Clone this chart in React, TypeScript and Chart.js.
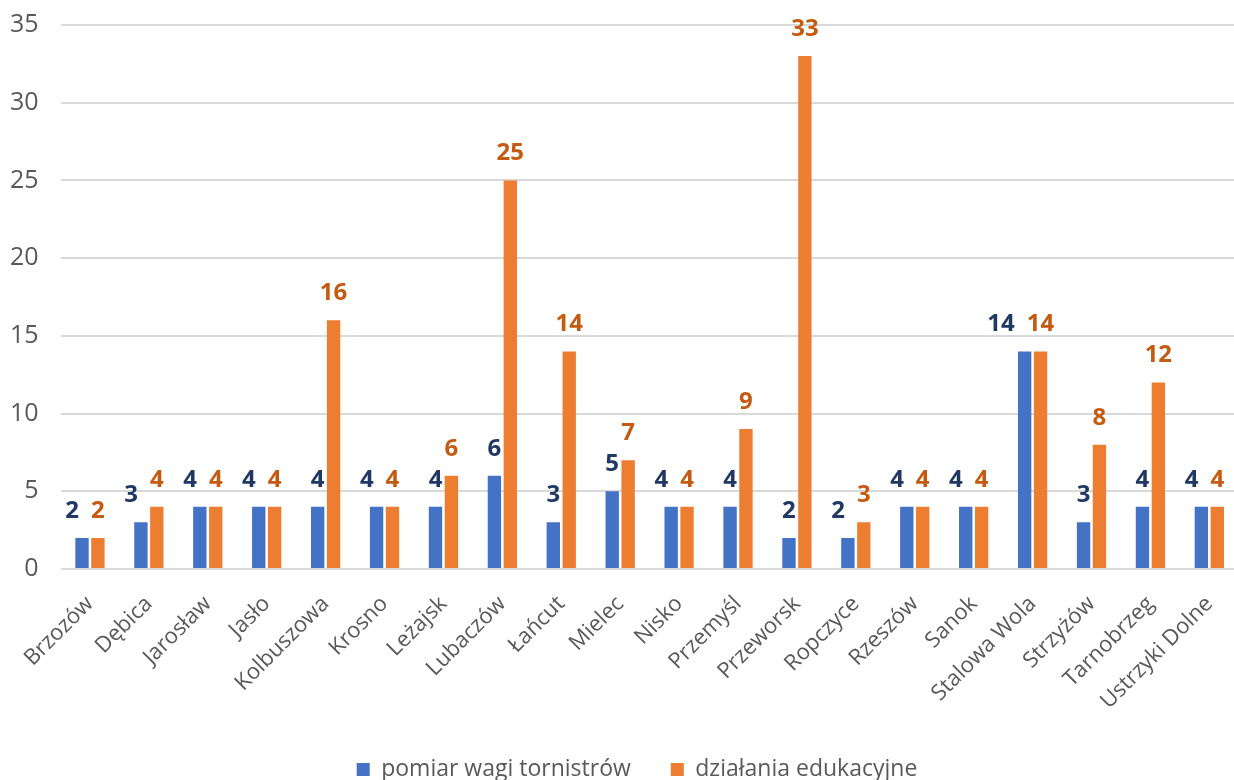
import React, { useEffect, useRef } from "react";
import { Chart, registerables } from "chart.js";

Chart.register(...registerables);

const categories = [
  "Brzozów", "Dębica", "Jarosław", "Jasło", "Kolbuszowa", "Krosno", "Leżajsk",
  "Lubaczów", "Łańcut", "Mielec", "Nisko", "Przemyśl", "Przeworsk", "Ropczyce",
  "Rzeszów", "Sanok", "Stalowa Wola", "Strzyżów", "Tarnobrzeg", "Ustrzyki Dolne",
];
const seriesNames = ["pomiar wagi tornistrów", "działania edukacyjne"];
const pomiarWagi = [2, 3, 4, 4, 4, 4, 4, 6, 3, 5, 4, 4, 2, 2, 4, 4, 14, 3, 4, 4];
const dzialaniaEdu = [2, 4, 4, 4, 16, 4, 6, 25, 14, 7, 4, 9, 33, 3, 4, 4, 14, 8, 12, 4];
const yTicks = [0, 5, 10, 15, 20, 25, 30, 35];

const barColors = ["#4472C4", "#ED7D31"];
const labelColors = ["#1F3864", "#C55A11"];
const FONT = "'Open Sans', 'Noto Sans', sans-serif";
const LABEL_FONT = `bold 24px ${FONT}`;

const labelPlugin = {
  id: "barValueLabels",
  afterDatasetsDraw(chart: any) {
    const ctx = chart.ctx;
    ctx.save();
    ctx.font = LABEL_FONT;
    ctx.textAlign = "center";
    ctx.textBaseline = "alphabetic";
    const metas = chart.data.datasets.map((_: any, i: number) => chart.getDatasetMeta(i));
    const n = chart.data.labels.length;
    for (let j = 0; j < n; j++) {
      const items = chart.data.datasets.map((ds: any, i: number) => {
        const bar = metas[i].data[j];
        const text = String(ds.data[j]);
        const w = ctx.measureText(text).width;
        return { text, x: bar.x, y: bar.y - 20, w, color: labelColors[i] };
      });
      // avoid overlap between the two labels of the same category
      const a = items[0];
      const b = items[1];
      if (Math.abs(a.y - b.y) < 20) {
        const minGap = 12;
        const overlap = a.x + a.w / 2 + minGap - (b.x - b.w / 2);
        if (overlap > 0) a.x -= overlap;
      }
      items.forEach((it: any) => {
        ctx.fillStyle = it.color;
        ctx.fillText(it.text, it.x, it.y);
      });
    }
    ctx.restore();
  },
};

// centre the legend under the plot the way the original does
const legendShiftPlugin = {
  id: "legendShift",
  afterLayout(chart: any) {
    if (chart.legend) {
      chart.legend.left += 16;
      chart.legend.right += 16;
    }
  },
};

export default function App() {
  const ref = useRef<HTMLCanvasElement>(null);
  useEffect(() => {
    document.body.style.margin = "0";
    const chart = new Chart(ref.current!, {
      type: "bar",
      data: {
        labels: categories,
        datasets: [
          {
            label: seriesNames[0],
            data: pomiarWagi,
            backgroundColor: barColors[0],
            categoryPercentage: 0.54,
            barPercentage: 0.84,
          },
          {
            label: seriesNames[1],
            data: dzialaniaEdu,
            backgroundColor: barColors[1],
            categoryPercentage: 0.54,
            barPercentage: 0.84,
          },
        ],
      },
      options: {
        animation: false,
        responsive: false,
        maintainAspectRatio: false,
        layout: { padding: { top: 25, right: 0, left: 0, bottom: 0 } },
        font: { family: FONT },
        plugins: {
          legend: {
            position: "bottom",
            labels: {
              font: { family: FONT, size: 23 },
              color: "#595959",
              boxWidth: 13,
              boxHeight: 13,
              padding: 40,
            },
          },
          tooltip: { enabled: false },
        },
        scales: {
          x: {
            grid: { display: false },
            border: { display: false },
            ticks: {
              font: { family: FONT, size: 22 },
              color: "#595959",
              maxRotation: 45,
              minRotation: 45,
              padding: 14,
              autoSkip: false,
            },
            afterFit: (scale: any) => {
              scale.height = 149;
            },
          },
          y: {
            min: 0,
            max: 35,
            afterBuildTicks: (scale: any) => {
              scale.ticks = yTicks.map((v) => ({ value: v }));
            },
            grid: { color: "#D9D9D9", lineWidth: 2, drawTicks: false },
            border: { display: false },
            ticks: {
              font: { family: FONT, size: 25 },
              color: "#595959",
              padding: 22,
            },
            afterFit: (scale: any) => {
              scale.width = 60.5;
              scale.paddingTop = 0;
              scale.paddingBottom = 0;
            },
          },
        },
      },
      plugins: [labelPlugin, legendShiftPlugin],
    });
    return () => chart.destroy();
  }, []);
  return (
    <div style={{ width: 1234, height: 780, overflow: "hidden", position: "relative" }}>
      <canvas ref={ref} width={1242} height={791} style={{ display: "block", width: 1242, height: 791 }} />
    </div>
  );
}
